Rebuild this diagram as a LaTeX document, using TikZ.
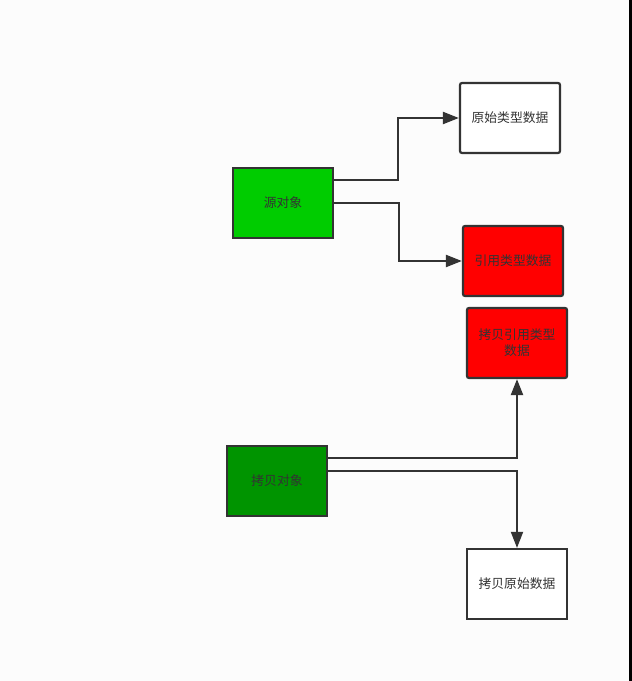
\documentclass[tikz,border=0pt]{standalone}
\usepackage{fontspec}
\usepackage{xcolor}
\usetikzlibrary{arrows.meta, positioning, calc}
\newfontfamily\cjk{Noto Sans CJK SC}
\definecolor{srcgreen}{RGB}{0, 204, 0}
\definecolor{copygreen}{RGB}{0, 148, 0}
\definecolor{refred}{RGB}{255, 0, 0}
\definecolor{linegray}{RGB}{51, 51, 51}
\definecolor{bgwhite}{RGB}{252, 252, 252}

\begin{document}
\begin{tikzpicture}[
    x=1pt, y=1pt,
    box/.style={rectangle, draw=linegray, line width=2.2pt, rounded corners=2pt, minimum width=100pt, minimum height=70pt, align=center, text=linegray, font=\cjk\fontsize{12.8}{16}\selectfont},
    arrow/.style={-{Triangle[length=16pt, width=12pt]}, line width=2.2pt, draw=linegray}
]

% Hintergrund
\fill[bgwhite] (0,0) rectangle (632,681);
\fill[black] (629,0) rectangle (632,681);
\useasboundingbox (0,0) rectangle (632,681);

% Quellobjekt
\node[box, fill=srcgreen, rounded corners=0pt] (src) at (283,478) {源对象};
\node[box, fill=white] (prim) at (510,563) {原始类型数据};
\node[box, fill=refred] (ref) at (513,420) {引用类型数据};

% Kopie
\node[box, fill=refred] (copyref) at (517,338) {拷贝引用类型\\数据};
\node[box, fill=copygreen, rounded corners=0pt] (copy) at (277,200) {拷贝对象};
\node[box, fill=white, rounded corners=0pt] (copyprim) at (517,97) {拷贝原始数据};

% Pfeile
\draw[arrow] ([yshift=23pt]src.east) -- ++(64,0) |- (prim.west);
\draw[arrow] (src.east) -- ++(65,0) |- (ref.west);
\draw[arrow] ([yshift=23pt]copy.east) -| (copyref.south);
\draw[arrow, line width=1.8pt] ([yshift=10pt]copy.east) -| (copyprim.north);

\end{tikzpicture}
\end{document}
